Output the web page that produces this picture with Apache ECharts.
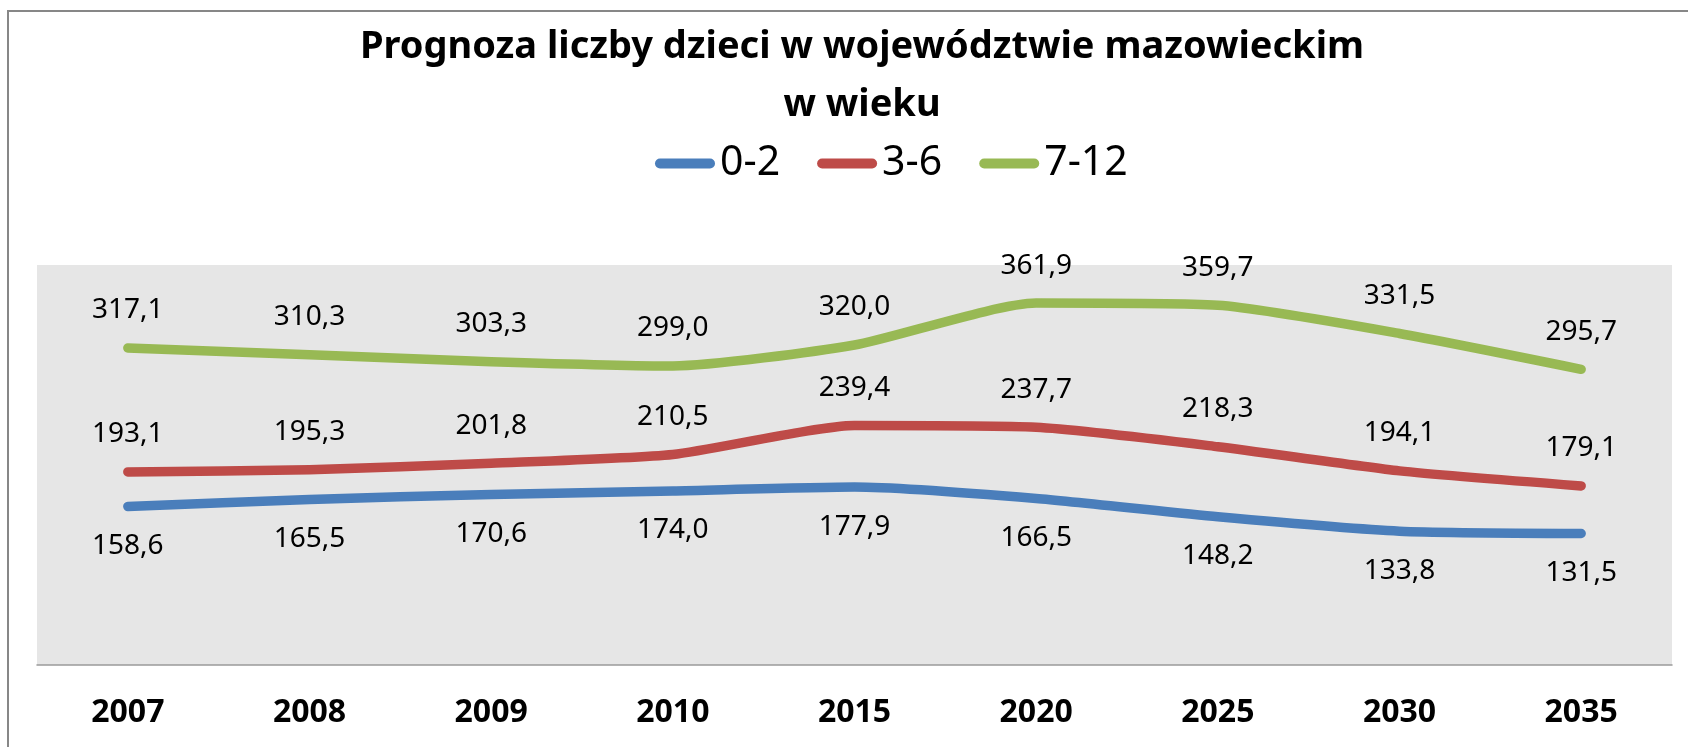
<!DOCTYPE html>
<html>
<head>
<meta charset="utf-8">
<script src="https://cdn.jsdelivr.net/npm/echarts@6/dist/echarts.min.js"></script>
<style>
  html, body { margin: 0; padding: 0; background: #ffffff; }
  #chart { width: 1688px; height: 747px; }
</style>
</head>
<body>
<div id="chart"></div>
<script>
const categories = ['2007', '2008', '2009', '2010', '2015', '2020', '2025', '2030', '2035'];
const seriesNames = ['0-2', '3-6', '7-12'];
const age0to2 = [158.6, 165.5, 170.6, 174.0, 177.9, 166.5, 148.2, 133.8, 131.5];
const age3to6 = [193.1, 195.3, 201.8, 210.5, 239.4, 237.7, 218.3, 194.1, 179.1];
const age7to12 = [317.1, 310.3, 303.3, 299.0, 320.0, 361.9, 359.7, 331.5, 295.7];
const titleText = 'Prognoza liczby dzieci w województwie mazowieckim\nw wieku';

const FONT = '"Noto Sans", "Open Sans", sans-serif';
const colors = ['#4A7EBB', '#BE4B48', '#98B954'];

function fmt(p) { return p.value.toFixed(1).replace('.', ','); }

function makeSeries(name, data, color, pos, dist) {
  return {
    name: name,
    type: 'line',
    data: data,
    smooth: 0.2,
    symbol: 'circle',
    symbolSize: 1,
    showSymbol: true,
    itemStyle: { color: color },
    lineStyle: { color: color, width: 9.5, cap: 'round', join: 'round' },
    label: {
      show: true,
      position: pos,
      distance: dist,
      formatter: fmt,
      fontFamily: FONT,
      fontSize: 28,
      lineHeight: 28,
      color: '#000000'
    },
    emphasis: { disabled: true },
    silent: true
  };
}

const chart = echarts.init(document.getElementById('chart'), null, { renderer: 'canvas' });
chart.setOption({
  animation: false,
  backgroundColor: '#ffffff',
  title: {
    text: titleText,
    left: 862,
    top: 18,
    padding: 0,
    textAlign: 'center',
    textStyle: {
      fontFamily: FONT,
      fontWeight: 'bold',
      fontSize: 38,
      lineHeight: 58,
      color: '#000000'
    }
  },
  legend: {
    data: seriesNames,
    left: 655,
    top: 143,
    padding: 0,
    icon: 'path://M5,0 H55 A5,5 0 0 1 55,10 H5 A5,5 0 0 1 5,0 Z',
    itemWidth: 60,
    itemHeight: 10,
    itemGap: 37,
    textStyle: { fontFamily: FONT, fontSize: 41, color: '#000000' }
  },
  grid: {
    left: 37,
    right: 16,
    top: 265,
    bottom: 82,
    show: true,
    backgroundColor: '#e6e6e6',
    borderWidth: 0
  },
  xAxis: {
    type: 'category',
    data: categories,
    boundaryGap: true,
    axisLine: { show: true, lineStyle: { color: '#9a9a9a', width: 1.5 } },
    axisTick: { show: false },
    splitLine: { show: false },
    axisLabel: {
      margin: 32,
      fontFamily: FONT,
      fontWeight: 'bold',
      fontSize: 32,
      color: '#000000'
    }
  },
  yAxis: {
    type: 'value',
    min: 0,
    max: 400,
    interval: 100,
    show: false,
    splitLine: { show: false }
  },
  graphic: [{
    type: 'rect',
    shape: { x: 8, y: 11, width: 1720, height: 800 },
    style: { fill: 'none', stroke: '#878787', lineWidth: 2 },
    silent: true,
    z: 100
  }],
  series: [
    makeSeries(seriesNames[0], age0to2, colors[0], 'bottom', 25),
    makeSeries(seriesNames[1], age3to6, colors[1], 'top', 23),
    makeSeries(seriesNames[2], age7to12, colors[2], 'top', 23)
  ]
});
</script>
</body>
</html>
